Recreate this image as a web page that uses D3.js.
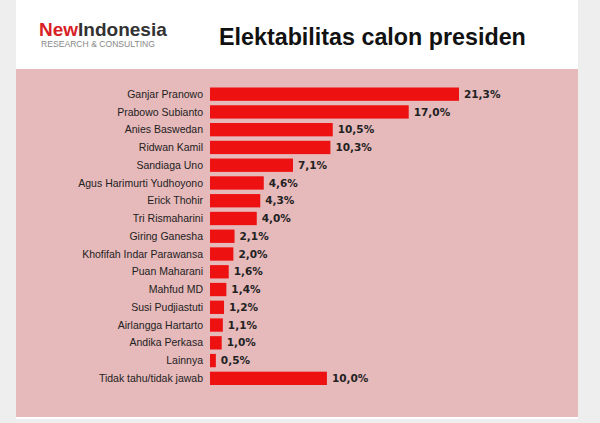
<!DOCTYPE html><html><head><meta charset="utf-8"><script src="https://d3js.org/d3.v7.min.js"></script>
<style>body{margin:0;background:#eeeeee}svg{display:block}</style></head><body><svg width="600" height="423"></svg>
<script>
const categories=["Ganjar Pranowo","Prabowo Subianto","Anies Baswedan","Ridwan Kamil","Sandiaga Uno","Agus Harimurti Yudhoyono","Erick Thohir","Tri Rismaharini","Giring Ganesha","Khofifah Indar Parawansa","Puan Maharani","Mahfud MD","Susi Pudjiastuti","Airlangga Hartarto","Andika Perkasa","Lainnya","Tidak tahu/tidak jawab"];
const values=[21.3,17.0,10.5,10.3,7.1,4.6,4.3,4.0,2.1,2.0,1.6,1.4,1.2,1.1,1.0,0.5,10.0];
const svg=d3.select("svg");
svg.append("rect").attr("x",16).attr("y",0).attr("width",562).attr("height",419).attr("fill","#fff");
svg.append("rect").attr("x",16).attr("y",69).attr("width",562).attr("height",348).attr("fill","#e6b9ba");
svg.append("text").attr("x",39).attr("y",36).attr("font-family","Liberation Sans, Arial").attr("font-weight","bold").attr("font-size",19)
 .call(t=>{t.append("tspan").attr("fill","#d81f26").text("New");t.append("tspan").attr("fill","#333").text("Indonesia");});
svg.append("text").attr("x",41).attr("y",47).attr("font-family","Liberation Sans, Arial").attr("font-size",8.6).attr("fill","#888").text("RESEARCH & CONSULTING");
svg.append("text").attr("x",219).attr("y",45).attr("font-family","Liberation Sans, Arial").attr("font-weight","bold").attr("font-size",23.3).attr("fill","#111").text("Elektabilitas calon presiden");
const x=d3.scaleLinear().domain([0,21.3]).range([210,459]);
const y=d3.scaleBand().domain(categories).range([87.5,385]).paddingInner(0.25);
const g=svg.append("g");
categories.forEach((c,i)=>{
 g.append("rect").attr("x",x(0)).attr("y",y(c)).attr("width",x(values[i])-x(0)).attr("height",y.bandwidth()).attr("fill","#ee1111");
 g.append("text").attr("x",203).attr("y",y(c)+y.bandwidth()/2).attr("dy","0.35em").attr("text-anchor","end").attr("font-family","Liberation Sans Narrow, Arial Narrow, Liberation Sans").attr("font-size",10.5).attr("fill","#222").text(c);
 g.append("text").attr("x",x(values[i])+5).attr("y",y(c)+y.bandwidth()/2).attr("dy","0.35em").attr("font-family","DejaVu Sans, Verdana").attr("font-weight","bold").attr("font-size",10.5).attr("fill","#222").text(values[i].toFixed(1).replace(".",",")+"%");
});
</script></body></html>
